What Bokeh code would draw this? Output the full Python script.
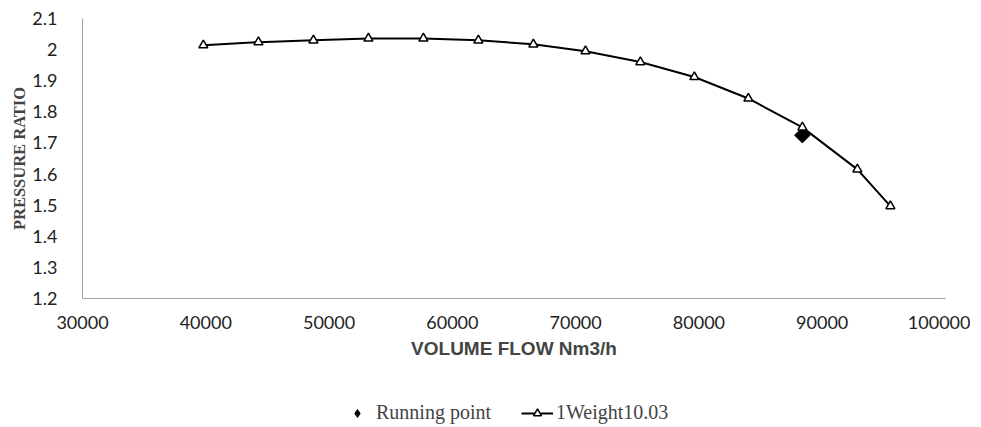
import math
from bokeh.plotting import figure
from bokeh.layouts import column
from bokeh.models import Range1d, FixedTicker, Legend, LegendItem
from bokeh.embed import file_html
from bokeh.resources import INLINE

flow = [39800, 44270, 48730, 53190, 57650, 62110, 66570, 70800, 75250, 79630, 84010, 88390, 92850, 95530]
ratio = [2.014, 2.024, 2.030, 2.036, 2.036, 2.030, 2.017, 1.995, 1.960, 1.912, 1.843, 1.750, 1.615, 1.497]
run_flow = [88390]
run_ratio = [1.725]
x_ticks = [30000, 40000, 50000, 60000, 70000, 80000, 90000, 100000]
y_ticks = [1.2, 1.3, 1.4, 1.5, 1.6, 1.7, 1.8, 1.9, 2.0, 2.1]
y_labels = ["1.2", "1.3", "1.4", "1.5", "1.6", "1.7", "1.8", "1.9", "2", "2.1"]

p = figure(width=970, height=368, output_backend="svg", toolbar_location=None,
           x_range=Range1d(30000, 100000), y_range=Range1d(1.2, 2.1),
           min_border_left=82, min_border_right=25, min_border_top=18, min_border_bottom=70)
p.outline_line_color = None
p.xgrid.grid_line_color = None
p.ygrid.grid_line_color = None

p.xaxis.ticker = FixedTicker(ticks=x_ticks)
p.yaxis.ticker = FixedTicker(ticks=y_ticks)
p.yaxis.major_label_overrides = {t: l for t, l in zip(y_ticks, y_labels)}
p.xaxis.formatter.use_scientific = False
for ax in (p.xaxis, p.yaxis):
    ax.axis_line_color = "#a0a0a0"
    ax.axis_line_width = 1
    ax.major_tick_line_color = None
    ax.minor_tick_line_color = None
    ax.major_label_text_font = "Lato"
    ax.major_label_text_font_size = "18px"
    ax.major_label_text_color = "#222222"
p.xaxis.major_label_standoff = 11
p.yaxis.major_label_standoff = 19

p.xaxis.axis_label = "VOLUME FLOW Nm3/h"
p.xaxis.axis_label_text_font = "Liberation Sans"
p.xaxis.axis_label_text_font_style = "bold"
p.xaxis.axis_label_text_font_size = "19px"
p.xaxis.axis_label_standoff = 6
p.yaxis.axis_label = "PRESSURE RATIO"
p.yaxis.axis_label_text_font = "Liberation Serif"
p.yaxis.axis_label_text_font_style = "bold"
p.yaxis.axis_label_text_font_size = "16.5px"
p.yaxis.axis_label_standoff = 0

p.scatter(run_flow, run_ratio, marker="square", angle=math.pi / 4, size=11, color="black")
p.line(flow, ratio, line_color="black", line_width=2)
p.scatter(flow, ratio, marker="triangle", size=9, fill_color="white",
          line_color="black", line_width=1.5)

# legend strip below the chart (proxy renderers lie outside this strip's ranges)
q = figure(width=970, height=56, output_backend="svg", toolbar_location=None,
           x_range=Range1d(0, 1), y_range=Range1d(0, 1),
           min_border_left=0, min_border_right=0, min_border_top=0, min_border_bottom=0)
q.axis.visible = False
q.grid.visible = False
q.outline_line_color = None
lg_run = q.scatter(run_flow, run_ratio, marker="diamond", size=12, color="black")
lg_ln = q.line(flow, ratio, line_color="black", line_width=2)
lg_tri = q.scatter(flow, ratio, marker="triangle", size=9, fill_color="white",
                   line_color="black", line_width=1.5)
legend = Legend(items=[LegendItem(label="Running point", renderers=[lg_run]),
                       LegendItem(label="1Weight10.03", renderers=[lg_ln, lg_tri])],
                orientation="horizontal", location=(259, 0),
                label_text_font="Liberation Serif", label_text_font_size="20px",
                background_fill_alpha=0, border_line_color=None, padding=0, margin=0,
                glyph_width=32, spacing=30, label_standoff=3)
q.add_layout(legend, "center")

layout = column(p, q, spacing=0)
open("out.html", "w").write(file_html(layout, INLINE))
